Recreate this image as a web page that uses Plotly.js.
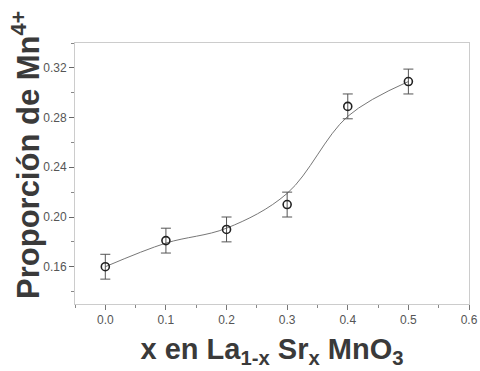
<!DOCTYPE html>
<html>
<head>
<meta charset="utf-8">
<script src="https://cdn.plot.ly/plotly-3.0.1.min.js"></script>
<style>html,body{margin:0;padding:0;background:#fff;}#chart{width:480px;height:371px;}</style>
</head>
<body>
<div id="chart"></div>
<script>
// Measured data
const xValues = [0.0, 0.1, 0.2, 0.3, 0.4, 0.5];
const mn4Values = [0.160, 0.181, 0.190, 0.210, 0.289, 0.309];
const errValues = [0.010, 0.010, 0.010, 0.010, 0.010, 0.010];
// Smooth guide curve
const fitX = [0.0, 0.1, 0.2, 0.3, 0.4, 0.5];
const fitY = [0.160, 0.179, 0.191, 0.219, 0.281, 0.309];

const yTitle = '<b>Proporción de Mn<sup>4+</sup></b>';
const xTitle = '<b>x en La<sub>1-x</sub> Sr<sub>x</sub> MnO<sub>3</sub></b>';

const data = [
  {
    x: fitX, y: fitY, type: 'scatter', mode: 'lines',
    line: {shape: 'spline', smoothing: 1.0, color: '#777', width: 1},
    hoverinfo: 'skip', showlegend: false
  },
  {
    x: xValues, y: mn4Values, type: 'scatter', mode: 'markers',
    marker: {symbol: 'circle-open', size: 8, color: '#222', line: {width: 1.6, color: '#222'}},
    error_y: {type: 'data', array: errValues, visible: true, color: '#555', thickness: 1, width: 5},
    showlegend: false
  }
];

const layout = {
  width: 480, height: 371,
  margin: {l: 75, r: 11, t: 43, b: 67},
  paper_bgcolor: '#fff', plot_bgcolor: '#fff',
  font: {family: 'Liberation Sans, Arial, sans-serif', color: '#444'},
  showlegend: false,
  xaxis: {
    range: [-0.05, 0.6], dtick: 0.1, tick0: 0, tickformat: '.1f',
    ticks: 'outside', ticklen: 5, tickcolor: '#777', tickwidth: 1,
    minor: {dtick: 0.05, ticks: 'outside', ticklen: 3, tickcolor: '#888'},
    showgrid: false, zeroline: false,
    showline: true, linecolor: '#ccc', linewidth: 1, mirror: true,
    tickfont: {size: 12, color: '#555'},
    title: {text: xTitle, font: {size: 29, color: '#3a3a3a'}, standoff: 12}
  },
  yaxis: {
    range: [0.13, 0.34], dtick: 0.04, tick0: 0.16, tickformat: '.2f',
    ticks: 'outside', ticklen: 5, tickcolor: '#666', tickwidth: 1,
    minor: {dtick: 0.02, ticks: 'outside', ticklen: 3, tickcolor: '#888'},
    showgrid: false, zeroline: false,
    showline: true, linecolor: '#ccc', linewidth: 1, mirror: true,
    tickfont: {size: 12, color: '#555'}
  },
  annotations: [{
    text: yTitle, textangle: -90, showarrow: false,
    xref: 'paper', yref: 'paper', x: -0.125, y: 0.57,
    xanchor: 'center', yanchor: 'middle',
    font: {size: 31, color: '#3a3a3a', family: 'Liberation Sans, Arial, sans-serif'}
  }]
};

Plotly.newPlot('chart', data, layout, {displayModeBar: false, staticPlot: true});
</script>
</body>
</html>
